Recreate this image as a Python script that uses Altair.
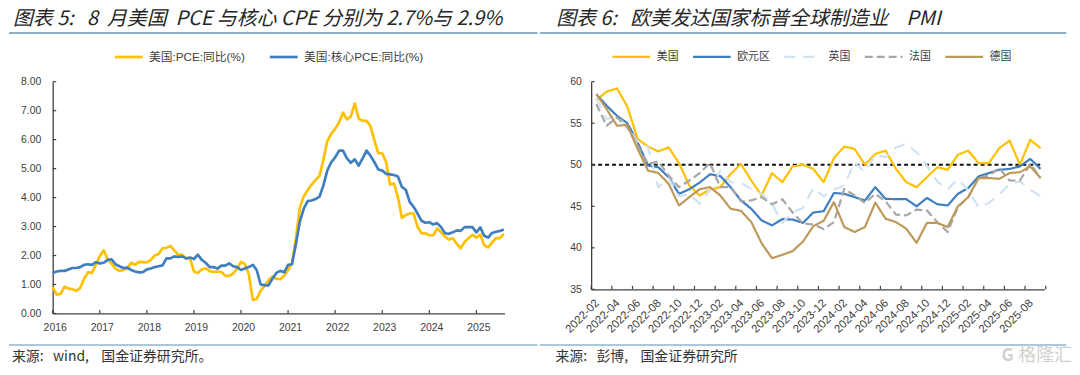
import altair as alt
import pandas as pd

# ---------- left chart data (2016-01 .. 2025-08) ----------
pce = [0.9,0.65,0.68,0.92,0.86,0.84,0.78,0.88,1.2,1.42,1.4,1.68,
       1.98,2.18,1.87,1.72,1.55,1.47,1.5,1.55,1.75,1.68,1.78,1.77,
       1.76,1.85,2.0,2.05,2.25,2.27,2.33,2.18,2.02,2.03,1.9,1.9,
       1.45,1.4,1.52,1.56,1.46,1.43,1.45,1.43,1.3,1.3,1.38,1.55,
       1.78,1.7,1.35,0.47,0.5,0.78,0.95,1.15,1.27,1.2,1.18,1.3,
       1.5,1.75,2.6,3.65,4.05,4.25,4.45,4.6,4.75,5.3,5.95,6.2,
       6.37,6.6,6.93,6.7,6.8,7.25,6.72,6.65,6.65,6.47,5.97,5.53,
       5.53,5.22,4.45,4.48,4.02,3.3,3.4,3.45,3.45,3.0,2.77,2.77,
       2.7,2.7,2.93,2.8,2.65,2.55,2.6,2.4,2.25,2.47,2.6,2.72,
       2.62,2.72,2.36,2.28,2.45,2.6,2.6,2.75]
core = [1.4,1.45,1.47,1.47,1.52,1.57,1.57,1.6,1.68,1.7,1.68,1.77,
        1.73,1.75,1.85,1.87,1.7,1.63,1.57,1.58,1.5,1.45,1.42,1.43,
        1.52,1.55,1.6,1.63,1.66,1.9,1.9,1.97,1.95,1.97,1.9,1.93,
        1.88,2.03,1.85,1.75,1.6,1.6,1.55,1.65,1.65,1.73,1.63,1.6,
        1.5,1.55,1.6,1.68,1.5,1.0,0.98,0.97,1.2,1.4,1.47,1.42,
        1.68,1.7,2.4,3.17,3.62,3.88,3.9,3.95,4.03,4.42,4.94,5.22,
        5.39,5.62,5.62,5.35,5.2,5.32,5.1,5.35,5.62,5.45,5.22,4.97,
        4.93,4.82,4.8,4.78,4.73,4.37,4.27,3.85,3.68,3.45,3.2,3.13,
        3.15,3.07,3.12,2.98,2.77,2.75,2.8,2.87,2.85,2.98,2.98,2.98,
        2.8,2.97,2.68,2.62,2.78,2.82,2.85,2.9]
left_names = ["美国:PCE:同比(%)", "美国:核心PCE:同比(%)"]
year_labels = list(range(2016, 2026))
left_y_ticks = [0, 1, 2, 3, 4, 5, 6, 7, 8]

# ---------- right chart data (2022-02 .. 2025-09) ----------
us = [57.8,58.8,59.2,57.0,53.1,52.2,51.6,52.1,50.2,47.5,46.3,47.0,47.3,48.9,50.1,48.1,46.3,49.0,47.9,49.8,50.0,49.5,
      47.9,50.8,52.2,51.9,50.0,51.3,51.7,49.5,47.9,47.3,48.5,49.7,49.4,51.2,51.7,50.2,50.2,52.0,52.9,50.0,53.0,52.0]
ez = [58.5,57.1,55.9,55.0,52.7,49.9,49.7,48.5,46.5,47.05,47.85,48.85,48.65,47.3,45.7,44.7,43.3,42.7,43.45,43.4,43.0,44.25,
      44.4,46.6,46.5,46.1,45.7,47.3,45.9,45.85,45.85,45.0,46.0,45.25,45.1,46.5,47.2,48.6,49.0,49.4,49.5,49.8,50.7,49.5]
uk = [58,55.5,55.8,54.6,52.8,52.1,47.3,48.4,46.2,46.5,45.3,47,49.3,47.9,47.8,47.1,46.5,45.3,43,44.3,44.8,47.2,
      46.2,47,47.5,50.3,49.1,51.2,50.9,52.1,52.5,51.5,49.9,48,47,48.3,46.9,44.9,45.4,46.4,47.7,48,47,46.2]
fr = [57.3,54.7,55.7,54.5,52.3,50.1,50.4,48.7,47.3,48.1,49.0,50.2,47.3,47.3,45.6,45.7,46.1,45.25,45.85,44.25,42.95,42.8,
      42.25,43.1,47.1,46.3,45.4,46.5,45.6,44.0,43.9,44.6,44.5,43.1,41.9,44.9,46.1,48.4,48.7,49.6,48.1,48.1,50.1,48.4]
de = [58.5,56.7,54.7,54.8,51.9,49.3,49.0,47.7,45.1,46.1,47.05,47.3,46.3,44.7,44.45,43.1,40.55,38.75,39.15,39.6,40.75,42.6,
      43.25,45.5,42.5,41.9,42.5,45.45,43.5,43.1,42.3,40.6,43.0,43.0,42.5,45.0,46.1,48.4,48.4,48.3,49.0,49.1,49.8,48.4]
right_names = ["美国", "欧元区", "英国", "法国", "德国"]
right_y_ticks = [35, 40, 45, 50, 55, 60]
months = [f"{2022 + (1 + k) // 12}-{(1 + k) % 12 + 1:02d}" for k in range(44)]
threshold = [50]

N = "\u00a0"
titleL = f"图表 5:{N}{N} 8{N} 月美国{N} PCE 与核心 CPE 分别为 2.7%与 2.9%"
titleR = f"图表 6:{N}{N} 欧美发达国家标普全球制造业{N}{N}{N} PMI"
srcL = f"来源:{N}{N} wind,{N}{N}{N} 国金证券研究所。"
srcR = f"来源:{N}{N} 彭博,{N}{N}{N} 国金证券研究所"

LAT = "Liberation Sans"
CJK = "Noto Sans CJK SC"
MIX = "Liberation Sans, Noto Sans CJK SC"
INK = "#404040"
W1, H1 = 454.7, 233.3
W2, H2 = 456.0, 209.0
FOOT_Y = 277.5


def note(text, x, y, size, color="#333333", style="normal", baseline="middle", weight="normal"):
    return alt.Chart(pd.DataFrame({"t": [text]})).mark_text(
        font=CJK, fontSize=size, color=color, fontStyle=style, fontWeight=weight,
        align="left", baseline=baseline
    ).encode(text="t:N", x=alt.value(x), y=alt.value(y))


def line_rule(x0, x1, y, color):
    return alt.Chart(pd.DataFrame({"a": [0]})).mark_rule(color=color, strokeWidth=1.4).encode(
        x=alt.value(x0), x2=alt.value(x1), y=alt.value(y))


# ---------- left panel ----------
ldf = pd.concat([
    pd.DataFrame({"i": range(len(pce)), "v": pce, "s": left_names[0]}),
    pd.DataFrame({"i": range(len(core)), "v": core, "s": left_names[1]}),
])
lx = alt.Scale(domain=[0, 115.15], nice=False, zero=False)
ly = alt.Scale(domain=[0, 8], nice=False)
lx_axis = alt.Axis(
    values=[12 * k for k in range(10)], labelExpr="2016 + datum.value / 12", grid=False,
    tickSize=0, labelFont=LAT, labelFontSize=10.5, labelColor=INK, labelPadding=9,
    labelOffset=2, domainColor=INK, domainWidth=1.3, labelFlush=False, labelOverlap=False)
ly_axis = alt.Axis(
    values=left_y_ticks, format=".2f", grid=False, tickSize=0, labelFont=LAT, labelFontSize=10.5,
    labelColor=INK, labelPadding=12, domainColor=INK, domainWidth=1.3)
left_lines = alt.Chart(ldf).mark_line(strokeWidth=2.7, strokeJoin="round").encode(
    x=alt.X("i:Q", scale=lx, title=None, axis=lx_axis),
    y=alt.Y("v:Q", scale=ly, title=None, axis=ly_axis),
    color=alt.Color("s:N", scale=alt.Scale(domain=left_names, range=["#FFC000", "#3F7FBF"]),
                    legend=alt.Legend(orient="none", legendX=61, legendY=-40.7, direction="horizontal",
                                      title=None, symbolType="stroke", symbolSize=784, symbolStrokeWidth=2.7,
                                      labelFont=MIX, labelFontSize=11.8, labelColor=INK, labelOffset=5,
                                      columnPadding=19)),
)
left_yt = alt.Chart(pd.DataFrame({"v": left_y_ticks})).mark_rule(color=INK, strokeWidth=1.2).encode(
    y=alt.Y("v:Q", scale=ly, title=None, axis=ly_axis), x=alt.value(0), x2=alt.value(3.5))
left_xt = alt.Chart(pd.DataFrame({"i": [12 * (y - 2016) for y in year_labels]})).mark_rule(color=INK, strokeWidth=1.2).encode(
    x=alt.X("i:Q", scale=lx, title=None, axis=lx_axis), y=alt.value(H1), y2=alt.value(H1 - 3.5))
left = alt.layer(
    left_lines, left_yt, left_xt,
    note(titleL, -40, -62.7, 20, "#262626", "italic"),
    line_rule(-44, 488, -49, "#6A93B8"),
    line_rule(-44, 488, 265, "#8FB4D0"),
    note(srcL, -41, FOOT_Y, 14),
).properties(width=W1, height=H1)

# ---------- right panel ----------
rdf = pd.concat([pd.DataFrame({"i": range(44), "m": months, "v": vals, "s": nm})
                 for vals, nm in zip([us, ez, uk, fr, de], right_names)])
rx = alt.Scale(domain=[-0.5, 43.35], nice=False, zero=False)
ry = alt.Scale(domain=[35, 60], nice=False)
right_vals = [-0.5 + 2 * k for k in range(22)]
rx_axis = alt.Axis(
    values=right_vals,
    labelExpr="(2022 + floor((datum.value + 1.5) / 12)) + '-' + "
              "(((datum.value + 1.5) % 12) + 1 < 10 ? '0' : '') + (((datum.value + 1.5) % 12) + 1)",
    grid=False, tickSize=0, labelFont=LAT, labelFontSize=11.5, labelColor=INK, labelAngle=-45,
    labelAlign="right", labelBaseline="middle", labelPadding=12, labelOffset=6, domainColor=INK,
    domainWidth=1.3, labelFlush=False, labelOverlap=False)
ry_axis = alt.Axis(
    values=right_y_ticks, grid=False, tickSize=0, labelFont=LAT, labelFontSize=10.5, labelColor=INK,
    labelPadding=10, domainColor=INK, domainWidth=1.3)
r_legend = alt.Legend(orient="none", legendX=20, legendY=-45.7, direction="horizontal",
                      title=None, symbolType="stroke", symbolSize=1444, symbolStrokeWidth=2.4,
                      labelFont=CJK, labelFontSize=11, labelColor=INK, labelOffset=5, columnPadding=9)
right_lines = alt.Chart(rdf).mark_line(strokeWidth=2.2, strokeJoin="round").encode(
    x=alt.X("i:Q", scale=rx, title=None, axis=rx_axis),
    y=alt.Y("v:Q", scale=ry, title=None, axis=ry_axis),
    color=alt.Color("s:N", scale=alt.Scale(domain=right_names,
                    range=["#FFC000", "#3F7FBF", "#CFE2F3", "#A6A6A6", "#BD9A5B"]), legend=r_legend),
    strokeDash=alt.StrokeDash("s:N", scale=alt.Scale(domain=right_names,
                              range=[[1, 0], [1, 0], [11, 8], [8, 4], [1, 0]]), legend=r_legend),
)
right_thr = alt.Chart(pd.DataFrame({"v": threshold})).mark_rule(color="#111111", strokeWidth=1.8, strokeDash=[4, 3]).encode(
    y=alt.Y("v:Q", scale=ry, title=None, axis=ry_axis), x=alt.value(0), x2=alt.value(452))
right_yt = alt.Chart(pd.DataFrame({"v": right_y_ticks})).mark_rule(color=INK, strokeWidth=1.2).encode(
    y=alt.Y("v:Q", scale=ry, title=None, axis=ry_axis), x=alt.value(0), x2=alt.value(3.5))
right_xt = alt.Chart(pd.DataFrame({"i": [-0.5 + 2 * k for k in range(23)]})).mark_rule(color=INK, strokeWidth=1.2).encode(
    x=alt.X("i:Q", scale=rx, title=None, axis=rx_axis), y=alt.value(H2 - 3.5), y2=alt.value(H2))
right = alt.layer(
    right_thr, right_lines, right_yt, right_xt,
    note(titleR, -35.2, -62.7, 20, "#262626", "italic"),
    line_rule(-51.7, 478.3, -49, "#6A93B8"),
    line_rule(-51.7, 478.3, 265, "#8FB4D0"),
    note(srcR, -36, FOOT_Y, 14),
    note("G", 413, FOOT_Y - 1, 17, "#D0D0D0", weight="bold"),
    note("格隆汇", 430, FOOT_Y - 1, 18, "#D0D0D0"),
).properties(width=W2, height=H2)

chart = alt.hconcat(left, right, spacing=0).resolve_scale(
    color="independent", strokeDash="independent"
).properties(padding=0).configure_view(stroke=None)
chart.save("out.html", embed_options={"renderer": "svg", "actions": False})
